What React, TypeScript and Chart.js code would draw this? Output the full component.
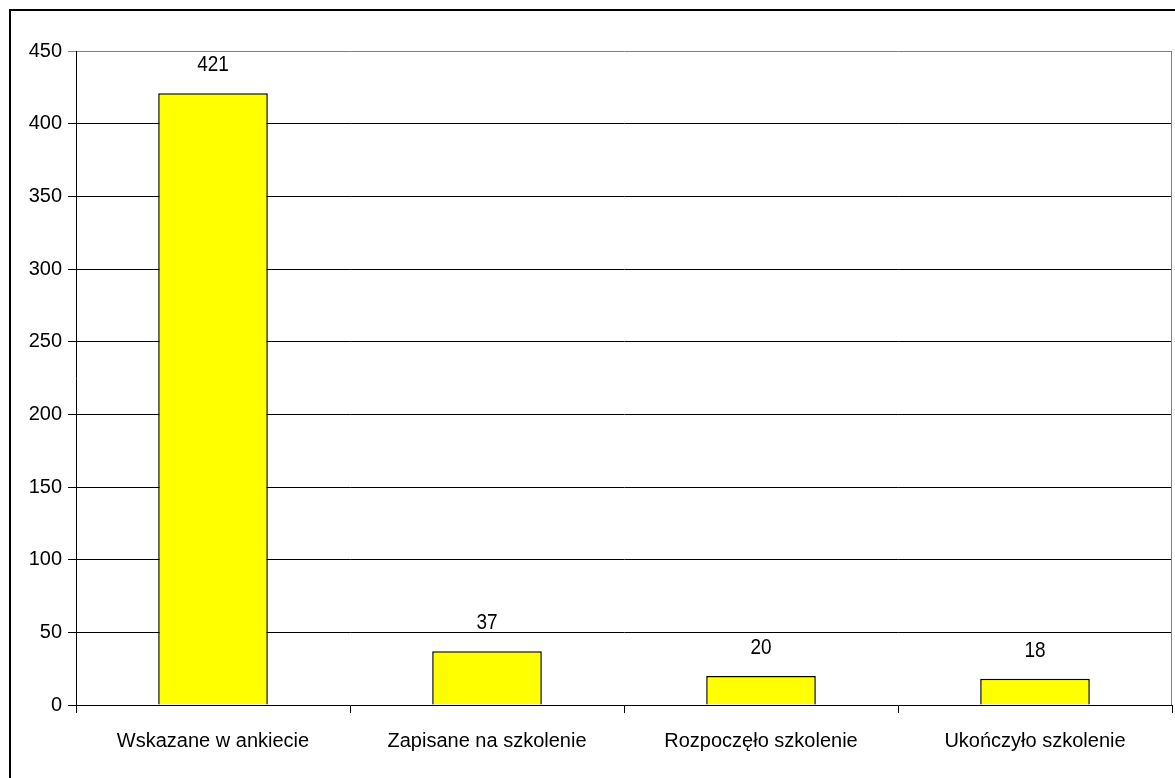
import React, { useEffect, useRef } from "react";
import { Chart, registerables } from "chart.js";

Chart.register(...registerables);

const categories = [
  "Wskazane w ankiecie",
  "Zapisane na szkolenie",
  "Rozpoczęło szkolenie",
  "Ukończyło szkolenie",
];
const values = [421, 37, 20, 18];
const yMin = 0;
const yMax = 450;
const yStep = 50;

const FONT = "'Liberation Sans', Arial, sans-serif";

const framePlugin = {
  id: "frame",
  beforeDraw(chart: any) {
    const ctx = chart.ctx;
    ctx.save();
    ctx.fillStyle = "#ffffff";
    ctx.fillRect(0, 0, chart.width, chart.height);
    ctx.strokeStyle = "#000000";
    ctx.lineWidth = 2;
    ctx.beginPath();
    ctx.moveTo(10, chart.height);
    ctx.lineTo(10, 10);
    ctx.lineTo(chart.width, 10);
    ctx.stroke();
    ctx.restore();
  },
  afterDatasetsDraw(chart: any) {
    const ctx = chart.ctx;
    const area = chart.chartArea;
    ctx.save();
    ctx.strokeStyle = "#808080";
    ctx.lineWidth = 1;
    ctx.beginPath();
    ctx.moveTo(Math.round(area.right) - 0.5, area.top);
    ctx.lineTo(Math.round(area.right) - 0.5, area.bottom);
    ctx.stroke();
    ctx.restore();
    const meta = chart.getDatasetMeta(0);
    meta.data.forEach((bar: any, i: number) => {
      ctx.save();
      ctx.fillStyle = "#000000";
      ctx.font = `19px ${FONT}`;
      ctx.textAlign = "center";
      ctx.textBaseline = "middle";
      const sy = 1.15;
      ctx.translate(bar.x, bar.y - 28);
      ctx.scale(1, sy);
      ctx.fillText(String(values[i]), 0, 0);
      ctx.restore();
    });
  },
};

export default function App() {
  const ref = useRef<HTMLCanvasElement | null>(null);
  useEffect(() => {
    document.body.style.margin = "0";
    const chart = new Chart(ref.current as HTMLCanvasElement, {
      type: "bar",
      data: {
        labels: categories,
        datasets: [
          {
            data: values,
            backgroundColor: "#FFFF00",
            borderColor: "#000000",
            borderWidth: 1.5,
            barPercentage: 0.4,
            categoryPercentage: 1,
          },
        ],
      },
      options: {
        animation: false,
        responsive: false,
        maintainAspectRatio: false,
        devicePixelRatio: 1,
        layout: { padding: { top: 51, right: 3, left: 0, bottom: 0 } },
        plugins: {
          legend: { display: false },
          tooltip: { enabled: false },
          title: { display: false },
        },
        scales: {
          x: {
            offset: true,
            grid: {
              offset: true,
              drawOnChartArea: false,
              drawTicks: true,
              tickLength: 8,
              color: "#000000",
            },
            border: { color: "#000000", width: 1 },
            ticks: {
              color: "#000000",
              font: { family: FONT, size: 20 },
              padding: 16,
              maxRotation: 0,
              autoSkip: false,
            },
            afterFit(scale: any) {
              scale.height = 73;
            },
          },
          y: {
            min: yMin,
            max: yMax,
            grid: {
              color: (c: any) => (c.tick && c.tick.value === yMax ? "#808080" : "#000000"),
              tickLength: 8,
              lineWidth: 1,
            },
            border: { color: "#000000", width: 1 },
            ticks: {
              stepSize: yStep,
              color: "#000000",
              font: { family: FONT, size: 20 },
              padding: 6,
            },
            afterFit(scale: any) {
              scale.width = 76;
            },
          },
        },
      },
      plugins: [framePlugin],
    });
    return () => chart.destroy();
  }, []);
  return (
    <div style={{ width: 1175, height: 778 }}>
      <canvas ref={ref} width={1175} height={778} style={{ width: 1175, height: 778, display: "block" }} />
    </div>
  );
}
